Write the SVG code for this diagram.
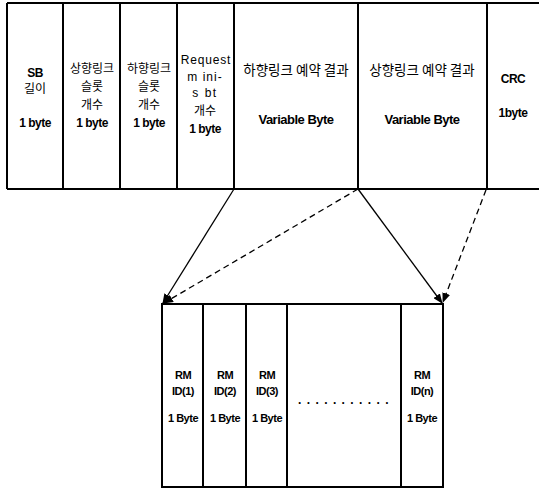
<svg xmlns="http://www.w3.org/2000/svg" width="539" height="490" viewBox="0 0 539 490">
<defs>
<style>
.ln{stroke:#000;stroke-width:2;fill:none}
.en{font-family:"Liberation Sans",Arial,sans-serif;font-weight:bold;font-size:12px;fill:#000;text-anchor:middle;letter-spacing:-0.5px}
.enr{font-family:"Liberation Sans",Arial,sans-serif;font-size:12px;fill:#000;text-anchor:middle}
.ko{font-family:"Noto Sans CJK KR","Liberation Sans",sans-serif;font-size:12px;fill:#000;text-anchor:middle}
.rm{font-size:11px}
.arr{stroke:#000;stroke-width:1.3;fill:none}
.dash{stroke-dasharray:6,4}
</style>
<marker id="ah" markerWidth="10" markerHeight="8" refX="9" refY="4" orient="auto" markerUnits="userSpaceOnUse">
<path d="M0,0 L10,4 L0,8 Z" fill="#000"/>
</marker>
</defs>
<rect width="539" height="490" fill="#fff"/>
<g id="top-frame">
<line class="ln" x1="7" y1="3" x2="539" y2="3"/>
<line class="ln" x1="7" y1="189" x2="539" y2="189"/>
<line class="ln" x1="7" y1="3" x2="7" y2="189"/>
</g>
<g id="sb-length">
<text class="en" x="35" y="77">SB</text>
<text class="ko" x="35" y="93">길이</text>
<text class="en" x="35" y="127">1 byte</text>
</g>
<g id="ul-slot-count">
<line class="ln" x1="63" y1="3" x2="63" y2="189"/>
<text class="ko" x="92" y="73">상향링크</text>
<text class="ko" x="92" y="91">슬롯</text>
<text class="ko" x="92" y="109">개수</text>
<text class="en" x="92" y="127">1 byte</text>
</g>
<g id="dl-slot-count">
<line class="ln" x1="120" y1="3" x2="120" y2="189"/>
<text class="ko" x="149" y="73">하향링크</text>
<text class="ko" x="149" y="91">슬롯</text>
<text class="ko" x="149" y="109">개수</text>
<text class="en" x="149" y="127">1 byte</text>
</g>
<g id="request-minislot">
<line class="ln" x1="177" y1="3" x2="177" y2="189"/>
<text class="enr" x="206" y="64" style="letter-spacing:0.8px">Request</text>
<text class="enr" x="205" y="81" style="letter-spacing:1px">m ini-</text>
<text class="enr" x="205" y="97" style="letter-spacing:1.5px">s bt</text>
<text class="ko" x="205" y="115">개수</text>
<text class="en" x="205" y="133">1 byte</text>
</g>
<g id="dl-reservation">
<line class="ln" x1="234" y1="3" x2="234" y2="189"/>
<text class="ko" x="296" y="75" style="font-size:13.5px">하향링크 예약 결과</text>
<text class="en" x="296" y="124" style="font-size:13px">Variable Byte</text>
</g>
<g id="ul-reservation">
<line class="ln" x1="358" y1="3" x2="358" y2="189"/>
<text class="ko" x="422" y="75" style="font-size:13.5px">상향링크 예약 결과</text>
<text class="en" x="422" y="124" style="font-size:13px">Variable Byte</text>
</g>
<g id="crc">
<line class="ln" x1="487" y1="3" x2="487" y2="189"/>
<text class="en" x="513" y="83">CRC</text>
<text class="en" x="513" y="117">1byte</text>
</g>
<g id="bottom-frame">
<rect class="ln" x="162" y="304" width="281" height="183"/>
</g>
<g id="rm1">
<text class="en rm" x="183" y="379">RM</text>
<text class="en rm" x="183" y="395">ID(1)</text>
<text class="en rm" x="183" y="422">1 Byte</text>
</g>
<g id="rm2">
<line class="ln" x1="203" y1="304" x2="203" y2="487"/>
<text class="en rm" x="225" y="379">RM</text>
<text class="en rm" x="225" y="395">ID(2)</text>
<text class="en rm" x="225" y="422">1 Byte</text>
</g>
<g id="rm3">
<line class="ln" x1="246" y1="304" x2="246" y2="487"/>
<text class="en rm" x="267" y="379">RM</text>
<text class="en rm" x="267" y="395">ID(3)</text>
<text class="en rm" x="267" y="422">1 Byte</text>
</g>
<g id="ellipsis">
<line class="ln" x1="287" y1="304" x2="287" y2="487"/>
<text class="en" x="346" y="404" style="font-size:12px;letter-spacing:5.4px">...........</text>
</g>
<g id="rmn">
<line class="ln" x1="401" y1="304" x2="401" y2="487"/>
<text class="en rm" x="422" y="379">RM</text>
<text class="en rm" x="422" y="395">ID(n)</text>
<text class="en rm" x="422" y="422">1 Byte</text>
</g>
<g id="connectors">
<line class="arr" x1="234" y1="189" x2="163" y2="303" marker-end="url(#ah)"/>
<line class="arr dash" x1="358" y1="189" x2="164" y2="303" marker-end="url(#ah)"/>
<line class="arr" x1="358" y1="189" x2="442" y2="303" marker-end="url(#ah)"/>
<line class="arr dash" x1="486" y1="190" x2="443" y2="302" marker-end="url(#ah)"/>
</g>
</svg>
